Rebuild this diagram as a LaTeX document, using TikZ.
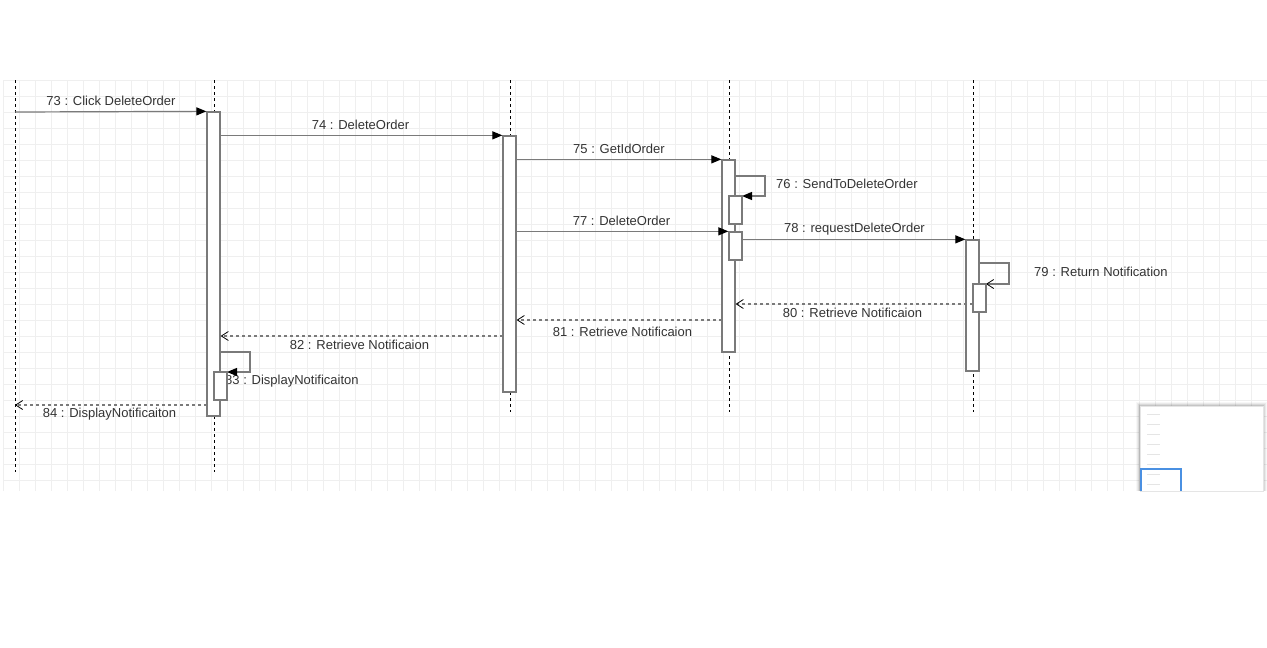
\documentclass[tikz,border=0pt]{standalone}
\usepackage{fontspec}
\setmainfont{Liberation Sans}
\usetikzlibrary{arrows.meta}
\definecolor{gridc}{HTML}{EFEFEF}
\definecolor{linec}{HTML}{7A7A7A}
\definecolor{txtc}{HTML}{333333}
\definecolor{mapblue}{RGB}{74,144,226}
\tikzset{
  gridline/.style={draw=gridc, line width=1pt},
  lifeline/.style={draw=black, line width=1pt, dash pattern=on 3pt off 3pt},
  actbox/.style={draw=linec, fill=white, line width=1.3pt, minimum width=13pt, inner sep=0pt, rectangle},
  callmsg/.style={draw=linec, line width=1.2pt, -{Triangle[length=10pt,width=8pt,color=black,fill=black]}},
  retmsg/.style={draw=linec, line width=1.2pt, dash pattern=on 3pt off 3pt, -{Straight Barb[length=7pt,width=9pt,color=black,line width=0.8pt]}},
  selfcall/.style={draw=linec, line width=1.2pt, -{Triangle[length=10pt,width=8pt,color=black,fill=black]}},
  selfret/.style={draw=linec, line width=1.2pt, -{Straight Barb[length=7pt,width=9pt,color=black,line width=0.8pt]}},
  msglabel/.style={text=txtc, font=\fontsize{13}{15}\selectfont, inner sep=0pt},
}
\begin{document}
\begin{tikzpicture}[x=1pt,y=-1pt]
\useasboundingbox[fill=white] (0,0) rectangle (1267,648);
% grid
\foreach \gx in {3,19,...,1267} \draw[gridline] (\gx,80) -- (\gx,491);
\foreach \gy in {80,96,...,490} \draw[gridline] (3,\gy) -- (1267,\gy);
% lifelines
\coordinate (L1t) at (15,80);  \coordinate (L1b) at (15,472);
\coordinate (L2t) at (214,80); \coordinate (L2b) at (214,472);
\coordinate (L3t) at (510,80); \coordinate (L3b) at (510,412);
\coordinate (L4t) at (729,80); \coordinate (L4b) at (729,412);
\coordinate (L5t) at (973,80); \coordinate (L5b) at (973,412);
\draw[lifeline] (L1t) -- (L1b);
\draw[lifeline] (L2t) -- (L2b);
\draw[lifeline] (L3t) -- (L3b);
\draw[lifeline] (L4t) -- (L4b);
\draw[lifeline] (L5t) -- (L5b);
% label 83 lies under its box
\node[msglabel, anchor=west] (t83) at (225,381) {83 : DisplayNotificaiton};
% activation boxes
\node[actbox, minimum height=304pt] (a2) at (213.5,264) {};
\node[actbox, minimum height=256pt] (a3) at (509.5,264) {};
\node[actbox, minimum height=192pt] (a4) at (728.5,256) {};
\node[actbox, minimum height=131pt] (a5) at (972.5,305.5) {};
% self-call loops
\coordinate (s76) at (765,176);
\coordinate (s79) at (1009,263);
\coordinate (s83) at (250,352);
\draw[selfcall] (a4.east |- s76) -- (s76) -- (s76 |- 0,196) -- (742,196);
\draw[selfret] (a5.east |- s79) -- (s79) -- (s79 |- 0,284) -- (986,284);
\draw[selfcall] (a2.east |- s83) -- (s83) -- (s83 |- 0,372) -- (227,372);
% nested activations
\node[actbox, minimum height=28pt] (a4b) at (735.5,210) {};
\node[actbox, minimum height=28pt] (a4c) at (735.5,246) {};
\node[actbox, minimum height=28pt] (a5b) at (979.5,298) {};
\node[actbox, minimum height=28pt] (a2b) at (220.5,386) {};
% call messages
\coordinate (m73) at (15,112);
\draw[callmsg] (m73) -- (a2.north west);
\draw[callmsg] (a2.east |- a3.north) -- (a3.north west);
\draw[callmsg] (a3.east |- a4.north) -- (a4.north west);
\draw[callmsg] (a3.east |- a4c.north) -- (a4c.north west);
\draw[callmsg] (a4c.east |- a5.north) -- (a5.north west);
% return messages
\coordinate (m80) at (973,304);
\coordinate (m81) at (722,320);
\coordinate (m82) at (503,336);
\coordinate (m84) at (207,405);
\draw[retmsg] (m80) -- (a4.east |- m80);
\draw[retmsg] (m81) -- (a3.east |- m81);
\draw[retmsg] (m82) -- (a2.east |- m82);
\draw[retmsg] (m84) -- (L1t |- m84);
% labels
\node[msglabel] (t73) at (111,101) {73 : Click DeleteOrder};
\node[msglabel] (t74) at (360.5,125) {74 : DeleteOrder};
\node[msglabel] (t75) at (619,149) {75 : GetIdOrder};
\node[msglabel, anchor=west] (t76) at (776,184) {76 : SendToDeleteOrder};
\node[msglabel] (t77) at (621.5,221) {77 : DeleteOrder};
\node[msglabel] (t78) at (854.5,229) {78 : requestDeleteOrder};
\node[msglabel, anchor=west] (t79) at (1034,272) {79 : Return Notification};
\node[msglabel] (t80) at (852.5,313) {80 : Retrieve Notificaion};
\node[msglabel] (t81) at (622.5,332) {81 : Retrieve Notificaion};
\node[msglabel] (t82) at (359.5,345) {82 : Retrieve Notificaion};
\node[msglabel] (t84) at (109.5,414) {84 : DisplayNotificaiton};
% minimap
\foreach \sh/\op in {4/0.03,3/0.05,2/0.07,1/0.09}
  \fill[black, opacity=\op] (1140-\sh,406-\sh) rectangle (1263+\sh,491);
\node[draw=white!90!black, fill=white, line width=0.5pt, inner sep=0pt, minimum width=123pt, minimum height=85pt] (map) at (1201.5,448.5) {};
\foreach \my in {414,424,434,444,454,464,474,484}
  \draw[black!10, line width=0.6pt] (1147,\my) -- (1160,\my);
\draw[draw=mapblue, line width=1.2pt] (1141,491) -- (1141,469) -- (1181,469) -- (1181,491);
\end{tikzpicture}
\end{document}
